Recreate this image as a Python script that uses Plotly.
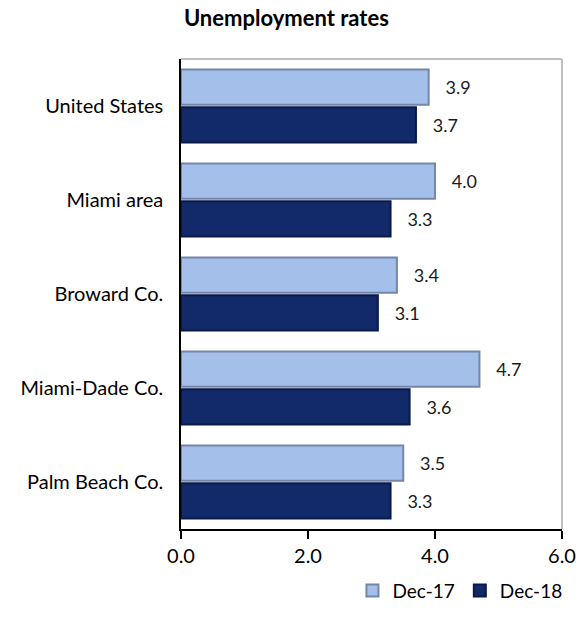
import plotly.graph_objects as go

categories = ["United States", "Miami area", "Broward Co.", "Miami-Dade Co.", "Palm Beach Co."]
dec17 = [3.9, 4.0, 3.4, 4.7, 3.5]
dec18 = [3.7, 3.3, 3.1, 3.6, 3.3]
x_ticks = [0, 2, 4, 6]

font_family = "Lato, 'Open Sans', sans-serif"
pad = '\u00a0\u00a0\u00a0'

fig = go.Figure()

fig.add_trace(go.Bar(
    y=categories,
    x=dec17,
    orientation='h',
    name='Dec-17',
    marker=dict(color='#A4BFEA', line=dict(color='#7486AA', width=2)),
    text=[pad + f"{v:.1f}" for v in dec17],
    textposition='outside',
    textfont=dict(size=18, color='#1a1a1a'),
    cliponaxis=False
))

fig.add_trace(go.Bar(
    y=categories,
    x=dec18,
    orientation='h',
    name='Dec-18',
    marker=dict(color='#12296A', line=dict(color='#0A1A48', width=2)),
    text=[pad + f"{v:.1f}" for v in dec18],
    textposition='outside',
    textfont=dict(size=18, color='#1a1a1a'),
    cliponaxis=False
))

fig.update_layout(
    width=588,
    height=622,
    title=dict(
        text='<b>Unemployment rates</b>',
        x=0.487,
        xanchor='center',
        y=0.971,
        yanchor='middle',
        font=dict(size=22, color='black', family=font_family)
    ),
    barmode='group',
    bargap=0.2,
    bargroupgap=0.06,
    font=dict(family=font_family, size=20, color='black'),
    plot_bgcolor='white',
    paper_bgcolor='white',
    margin=dict(l=181, r=17, t=59, b=74),
    showlegend=True,
    legend=dict(
        orientation='h',
        x=0.45,
        xanchor='left',
        y=-0.131,
        yanchor='middle',
        font=dict(size=19),
        itemwidth=30,
        traceorder='normal'
    ),
    shapes=[
        dict(type='line', xref='paper', yref='paper', x0=0, x1=1, y0=1, y1=1,
             line=dict(color='#BFBFBF', width=2)),
        dict(type='line', xref='paper', yref='paper', x0=1, x1=1, y0=0, y1=1,
             line=dict(color='#BFBFBF', width=2)),
    ]
)

fig.update_xaxes(
    range=[0, 6],
    tickvals=x_ticks,
    ticktext=[f"{v:.1f}" for v in x_ticks],
    showgrid=False,
    zeroline=False,
    showline=True,
    linecolor='black',
    linewidth=1.5,
    ticks='outside',
    ticklen=8,
    tickwidth=1.5,
    tickcolor='black',
    tickfont=dict(size=20)
)

fig.update_yaxes(
    autorange='reversed',
    showgrid=False,
    showline=True,
    linecolor='black',
    linewidth=1.5,
    ticks='',
    ticklabelstandoff=12,
    tickfont=dict(size=20)
)

# drop the default page margin so the figure sits at the window's corner
fig.write_html("out.html", config={'displayModeBar': False},
               post_script="document.body.style.margin='0';")
